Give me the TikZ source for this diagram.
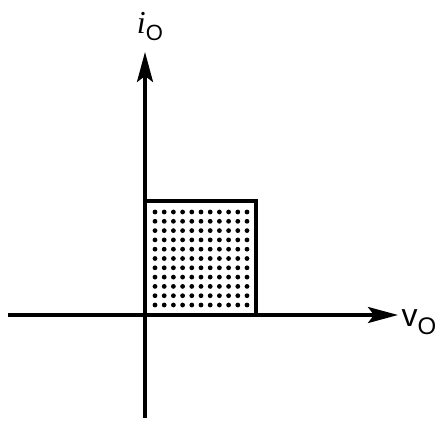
\documentclass[tikz,border=0pt]{standalone}
\usepackage{fontspec}
\setsansfont{Liberation Sans}
\setmainfont{Liberation Serif}
\usetikzlibrary{arrows.meta}
\begin{document}
\begin{tikzpicture}[x=1pt,y=-1pt,
  axis/.style={line width=3.4pt,-{Stealth[length=30pt,width=16pt,inset=6pt]}},
  box/.style={line width=3.2pt},
  dotmark/.style={fill=black,circle,inner sep=0pt,minimum size=4.8pt}]
\useasboundingbox (0,0) rectangle (440,423);
\coordinate (ybot) at (145,418);
\coordinate (ytop) at (145,52);
\coordinate (xl) at (8,315);
\coordinate (xr) at (398,315);
\foreach \i in {0,...,10}{\foreach \j in {0,...,10}{
  \node[dotmark] (d\i-\j) at ({155+9.2*\i},{212+9.3*\j}) {};}}
\draw[box] (145,201) -- (256,201) -- (256,315);
\draw[axis] (ybot) -- (ytop);
\draw[axis] (xl) -- (xr);
\node[inner sep=0pt] (ilab) at (150,27) {\fontsize{32}{32}\selectfont\itshape i\raisebox{-7pt}{\upshape\sffamily\fontsize{22}{22}\selectfont O}};
\node[inner sep=0pt] (vlab) at (419,322) {\fontsize{32}{32}\selectfont\sffamily v\raisebox{-8pt}{\fontsize{24}{24}\selectfont O}};
\end{tikzpicture}
\end{document}
